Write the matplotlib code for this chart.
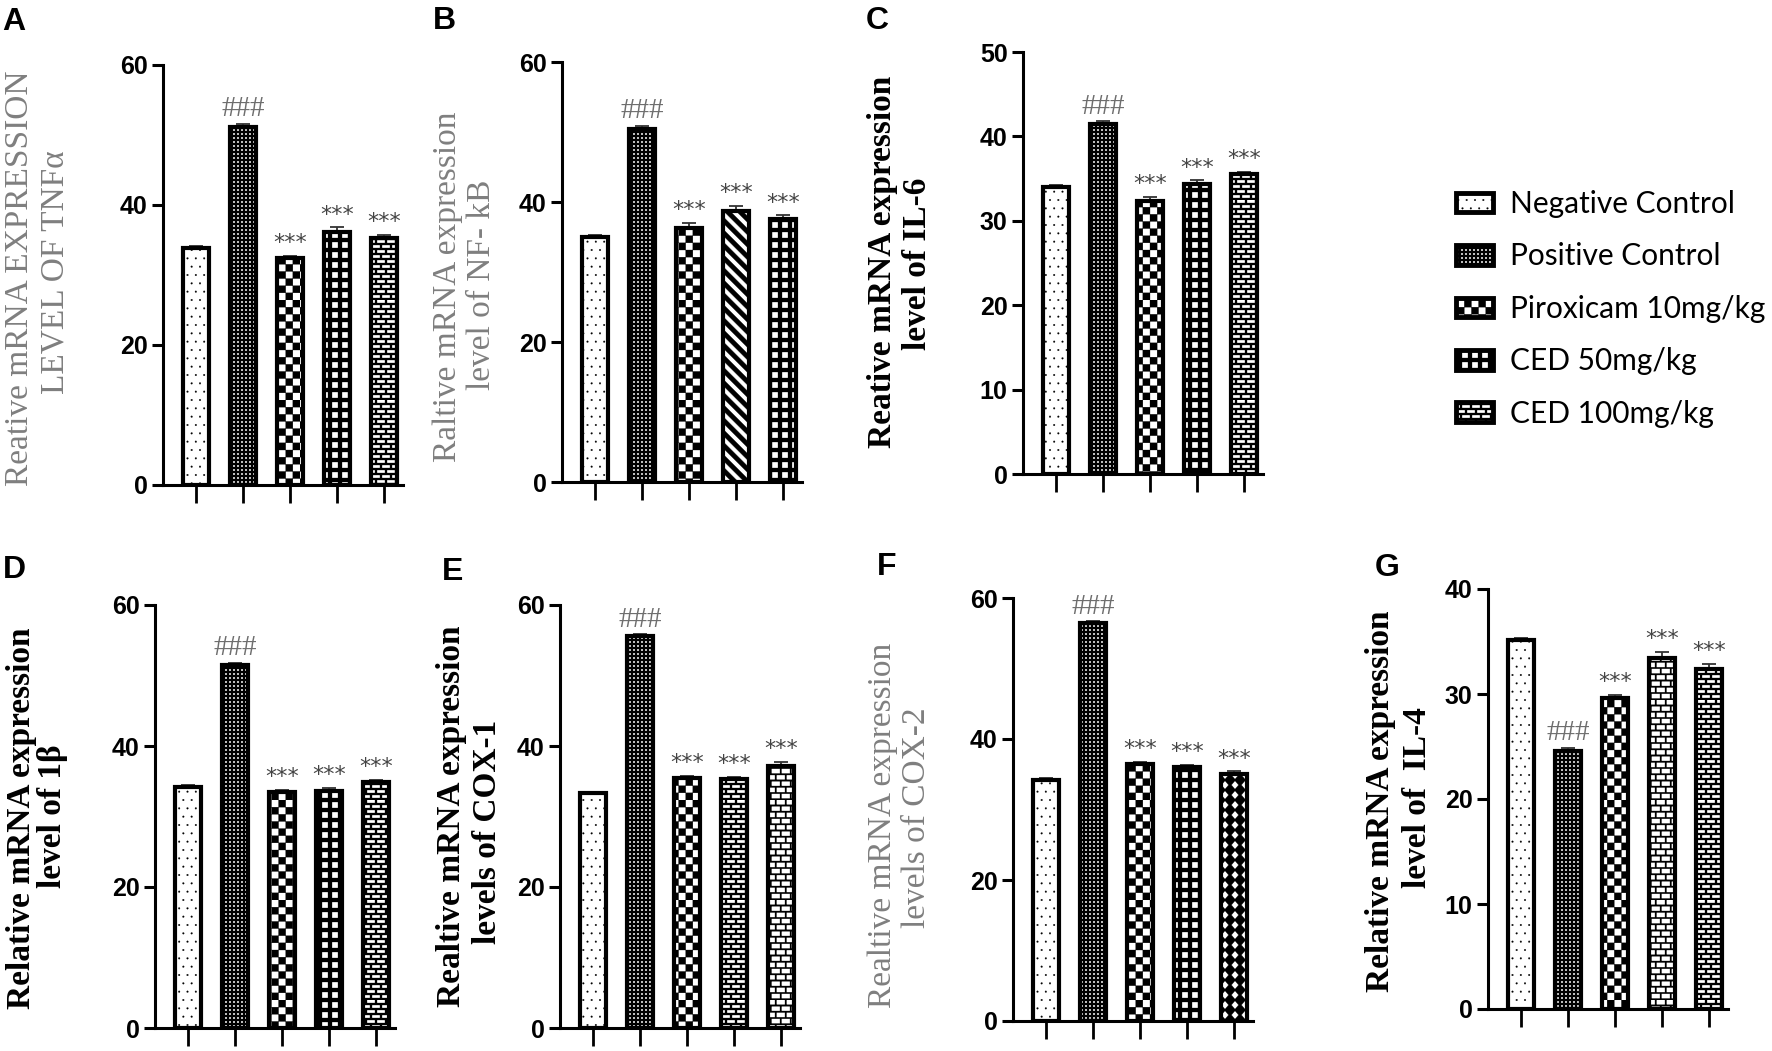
import warnings
warnings.filterwarnings('ignore')
import numpy as np
import matplotlib
matplotlib.use('Agg')
import matplotlib.pyplot as plt
import matplotlib.hatch as mhatch
from matplotlib.path import Path
from matplotlib.patches import Patch

# ---------------- data ----------------
groups = ["Negative Control", "Positive Control", "Piroxicam 10mg/kg",
          "CED 50mg/kg", "CED 100mg/kg"]

tnfa_vals = [33.9, 51.2, 32.4, 36.2, 35.3]
tnfa_err = [0.3, 0.4, 0.3, 0.6, 0.4]
nfkb_vals = [35.0, 50.5, 36.3, 38.7, 37.6]
nfkb_err = [0.3, 0.4, 0.7, 0.7, 0.5]
il6_vals = [34.0, 41.5, 32.3, 34.4, 35.5]
il6_err = [0.2, 0.3, 0.5, 0.4, 0.3]
il1b_vals = [34.2, 51.5, 33.5, 33.6, 34.9]
il1b_err = [0.2, 0.3, 0.3, 0.5, 0.3]
cox1_vals = [33.3, 55.6, 35.5, 35.3, 37.2]
cox1_err = [0.2, 0.3, 0.3, 0.3, 0.5]
cox2_vals = [34.2, 56.4, 36.5, 36.0, 35.1]
cox2_err = [0.2, 0.3, 0.3, 0.3, 0.3]
il4_vals = [35.1, 24.6, 29.6, 33.4, 32.4]
il4_err = [0.2, 0.3, 0.3, 0.6, 0.5]

panel_letters = ["A", "B", "C", "D", "E", "F", "G"]
ylabels = [
    ("Reative mRNA EXPRESSION", "LEVEL OF TNFα"),
    ("Raltive mRNA expression", "level of NF- kB"),
    ("Reative mRNA expression", "level of IL-6"),
    ("Relative mRNA expression", "level of 1β"),
    ("Realtive mRNA expression", "levels of COX-1"),
    ("Realtive mRNA expression", "levels of COX-2"),
    ("Relative mRNA expression", "level of  IL-4"),
]
yticks_list = [
    [0, 20, 40, 60], [0, 20, 40, 60], [0, 10, 20, 30, 40, 50],
    [0, 20, 40, 60], [0, 20, 40, 60], [0, 20, 40, 60], [0, 10, 20, 30, 40],
]
marks = ["", "###", "***", "***", "***"]

# ---------------- custom hatch patterns ----------------
def sq(x0, y0, x1, y1, ccw=True):
    if ccw:
        return [(x0, y0), (x1, y0), (x1, y1), (x0, y1)]
    return [(x0, y0), (x0, y1), (x1, y1), (x1, y0)]


def holes(n, s):
    polys = [sq(0, 0, 1, 1)]
    a = (1 - s) / 2
    for i in range(n):
        for j in range(n):
            polys.append(sq((i + a) / n, (j + a) / n, (i + a + s) / n, (j + a + s) / n, ccw=False))
    return polys


def checker(n):
    return [sq(i / n, j / n, (i + 1) / n, (j + 1) / n)
            for i in range(n) for j in range(n) if (i + j) % 2 == 0]


def brick(rows, cols, t):
    polys = []
    for k in range(rows):
        y0 = k / rows
        polys.append(sq(0, y0, 1, y0 + t))
        for m in range(cols):
            x = (m + 0.5 * (k % 2)) / cols
            polys.append(sq(x, y0 + t, x + t, (k + 1) / rows))
    return polys


def diag(n, w):
    polys = []
    for k in range(-1, 2 * n + 2):
        c = k / n
        polys.append([(-0.5, c + 0.5), (1.5, c - 1.5), (1.5, c - 1.5 + w), (-0.5, c + 0.5 + w)])
    return polys


def diamonds(n, hw, hh):
    polys = [sq(0, 0, 1, 1)]
    for i in range(n):
        for j in range(n):
            cx, cy = (i + 0.5) / n, (j + 0.5) / n
            polys.append([(cx - hw / n, cy), (cx, cy + hh / n), (cx + hw / n, cy), (cx, cy - hh / n)])
    return polys


class PolyHatch(mhatch.HatchPatternBase):
    key = ''

    def __init__(self, hatch, density):
        self.polys = self.build() if (hatch and self.key in hatch) else []
        self.num_vertices = sum(len(p) + 1 for p in self.polys)

    def build(self):
        return []

    def set_vertices_and_codes(self, vertices, codes):
        i = 0
        for p in self.polys:
            k = len(p)
            vertices[i:i + k] = p
            vertices[i + k] = p[0]
            codes[i] = Path.MOVETO
            codes[i + 1:i + k] = Path.LINETO
            codes[i + k] = Path.CLOSEPOLY
            i += k + 1


class FineHatch(PolyHatch):
    key = 'f'
    def build(self): return holes(25, 0.5)

class CheckHatch(PolyHatch):
    key = 'C'
    def build(self): return checker(14)

class GridHatch(PolyHatch):
    key = 'g'
    def build(self): return holes(10, 0.6)

class BrickHatch(PolyHatch):
    key = 'b'
    def build(self): return brick(20, 10, 0.02)

class LightBrickHatch(PolyHatch):
    key = 'l'
    def build(self): return brick(16, 10, 0.015)

class DiagHatch(PolyHatch):
    key = 'd'
    def build(self): return diag(8, 0.065)

class DiamondHatch(PolyHatch):
    key = 'k'
    def build(self): return diamonds(10, 0.36, 0.42)


mhatch._hatch_types.extend([FineHatch, CheckHatch, GridHatch, BrickHatch,
                            LightBrickHatch, DiagHatch, DiamondHatch])

plt.rcParams['hatch.linewidth'] = 0.2

patterns = [
    ['..', 'f', 'C', 'g', 'b'],
    ['..', 'f', 'C', 'd', 'g'],
    ['..', 'f', 'C', 'g', 'b'],
    ['..', 'f', 'C', 'g', 'b'],
    ['..', 'f', 'C', 'b', 'l'],
    ['..', 'f', 'C', 'g', 'k'],
    ['..', 'f', 'C', 'l', 'b'],
]

# ---------------- layout (pixels) ----------------
W, H = 1772, 1051
fig = plt.figure(figsize=(W / 100, H / 100), dpi=100)

# (axis x, y of 0, y of top tick)
geoms = [(163, 485, 65), (562, 482, 62), (1023, 474, 52),
         (155, 1028, 605), (560, 1028, 605), (1013, 1021, 598), (1488, 1009, 589)]
letter_pos = [(2, 7), (433, 6), (866, 6), (3, 555), (442, 557), (877, 552), (1375, 553)]
label_x = [(20, 55), (448, 482), (883, 917), (22, 52), (452, 488), (883, 917), (1380, 1417)]
label_y = [(278, 272), (287, 285), (262, 264), (818, 816), (816, 832), (825, 818), (801, 798)]
label_gray = [True, True, False, False, False, True, False]

all_vals = [tnfa_vals, nfkb_vals, il6_vals, il1b_vals, cox1_vals, cox2_vals, il4_vals]
all_errs = [tnfa_err, nfkb_err, il6_err, il1b_err, cox1_err, cox2_err, il4_err]

AXW = 240
x = np.arange(len(groups))

for p in range(7):
    x0, y0, yt = geoms[p]
    ax = fig.add_axes([x0 / W, 1 - y0 / H, AXW / W, (y0 - yt) / H])
    vals = all_vals[p]
    errs = all_errs[p]
    yt_list = yticks_list[p]
    ymax = yt_list[-1]
    ax.errorbar(x, vals, yerr=[np.zeros(len(vals)), errs], fmt='none',
                ecolor='#333333', elinewidth=1.3, capsize=5, capthick=1.3, zorder=1)
    bars = ax.bar(x, vals, width=0.56, color='white', edgecolor='black',
                  linewidth=3, zorder=2)
    for b, h in zip(bars, patterns[p]):
        b.set_hatch(h)
    ax.set_xlim(-0.7, 4.4)
    ax.set_ylim(0, ymax)
    ax.set_yticks(yt_list)
    ax.set_yticklabels([str(t) for t in yt_list], fontfamily='Liberation Sans',
                       fontweight='bold', fontsize=18)
    ax.set_xticks(x)
    ax.set_xticklabels([])
    for s in ['top', 'right']:
        ax.spines[s].set_visible(False)
    for s in ['left', 'bottom']:
        ax.spines[s].set_linewidth(2.2)
    ax.tick_params(axis='y', length=8, width=2.2, pad=3)
    ax.tick_params(axis='x', length=13, width=2.0)
    for i, (v, e) in enumerate(zip(vals, errs)):
        m = marks[i]
        if not m:
            continue
        if m == '###':
            ax.annotate(m, (i, v + e), xytext=(0, 1), textcoords='offset points',
                        ha='center', va='bottom', fontsize=21, color='#6e6e6e',
                        fontfamily='Liberation Serif', clip_on=False)
        else:
            ax.annotate(m, (i, v + e), xytext=(0, 2), textcoords='offset points',
                        ha='center', va='bottom', fontsize=16, color='#444444',
                        fontfamily='DejaVu Sans', clip_on=False)
    # y label (two lines)
    l1, l2 = ylabels[p]
    col = '#7f7f7f' if label_gray[p] else 'black'
    wt = 'normal' if label_gray[p] else 'bold'
    for txt, lx, ly in zip((l1, l2), label_x[p], label_y[p]):
        fig.text(lx / W, 1 - ly / H, txt, rotation=90, ha='center', va='center',
                 fontsize=24, color=col, fontweight=wt, fontfamily='Liberation Serif')
    lx, ly = letter_pos[p]
    fig.text(lx / W, 1 - ly / H, panel_letters[p], ha='left', va='top',
             fontsize=23, fontweight='bold', fontfamily='Liberation Sans')

# legend
legend_hatches = ['..', 'f', 'C', 'g', 'b']
handles = [Patch(facecolor='white', edgecolor='black', linewidth=3.5, hatch=h, label=g)
           for h, g in zip(legend_hatches, groups)]
fig.legend(handles=handles, loc='upper left', bbox_to_anchor=(1456 / W, 1 - 190 / H),
           frameon=False, prop={'family': 'Lato', 'size': 21.5}, handlelength=1.25,
           handleheight=0.65, handletextpad=0.55, labelspacing=0.82, borderpad=0,
           borderaxespad=0)

fig.savefig('out.png', dpi=100, facecolor='white')
